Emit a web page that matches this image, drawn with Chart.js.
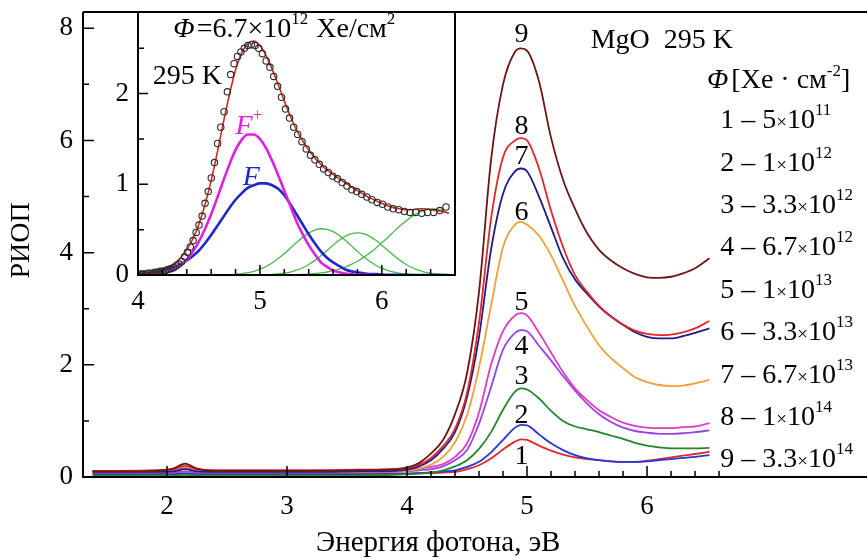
<!DOCTYPE html>
<html>
<head>
<meta charset="utf-8">
<script src="https://cdn.jsdelivr.net/npm/chart.js@4.4.1/dist/chart.umd.min.js"></script>
<style>
  html, body { margin: 0; padding: 0; background: #fff; }
  #wrap { position: relative; width: 867px; height: 558px; }
  #main { position: absolute; left: 0; top: 0; }
  #inset { position: absolute; left: 90px; top: 0; }
</style>
</head>
<body>
<div id="wrap">
  <canvas id="main" width="867" height="558"></canvas>
  <canvas id="inset" width="380" height="320"></canvas>
</div>
<script>
// ---- main plot data (photon energy, eV -> RIOP) ----
var energy = [1.38, 1.6, 1.9, 2.05, 2.15, 2.25, 2.4, 2.8, 3.2, 3.6, 3.9,
  4.0, 4.1, 4.2, 4.3, 4.4, 4.5, 4.6, 4.7, 4.8, 4.9, 4.95,
  5.0, 5.1, 5.2, 5.3, 5.4, 5.5, 5.6, 5.7, 5.8, 5.9, 6.0, 6.1, 6.2, 6.3, 6.4, 6.52];

var riop1 = [0.06, 0.06, 0.06, 0.06, 0.07, 0.06, 0.06, 0.06, 0.06, 0.06, 0.06,
  0.06, 0.07, 0.07, 0.08, 0.09, 0.14, 0.21, 0.33, 0.49, 0.63, 0.67,
  0.66, 0.56, 0.47, 0.40, 0.35, 0.32, 0.30, 0.28, 0.27, 0.27, 0.29, 0.32, 0.35, 0.38, 0.41, 0.45];
var riop2 = [0.05, 0.05, 0.05, 0.05, 0.06, 0.05, 0.05, 0.05, 0.05, 0.05, 0.05,
  0.06, 0.07, 0.08, 0.10, 0.12, 0.18, 0.27, 0.44, 0.66, 0.88, 0.93,
  0.92, 0.76, 0.60, 0.48, 0.39, 0.33, 0.30, 0.28, 0.27, 0.27, 0.28, 0.30, 0.32, 0.34, 0.36, 0.39];
var riop3 = [0.03, 0.03, 0.03, 0.03, 0.04, 0.03, 0.03, 0.03, 0.03, 0.03, 0.04,
  0.05, 0.06, 0.08, 0.12, 0.19, 0.30, 0.50, 0.80, 1.20, 1.52, 1.58,
  1.56, 1.40, 1.18, 1.00, 0.90, 0.85, 0.80, 0.74, 0.68, 0.61, 0.56, 0.53, 0.51, 0.51, 0.51, 0.52];
var riop4 = [0.08, 0.08, 0.08, 0.08, 0.10, 0.08, 0.08, 0.08, 0.08, 0.08, 0.09,
  0.10, 0.12, 0.14, 0.19, 0.30, 0.48, 0.95, 1.60, 2.27, 2.57, 2.62,
  2.60, 2.34, 2.08, 1.80, 1.54, 1.31, 1.12, 0.98, 0.88, 0.82, 0.79, 0.77, 0.77, 0.78, 0.80, 0.83];
var riop5 = [0.11, 0.11, 0.11, 0.12, 0.16, 0.12, 0.11, 0.11, 0.11, 0.11, 0.12,
  0.13, 0.15, 0.18, 0.23, 0.36, 0.60, 1.15, 2.00, 2.60, 2.88, 2.92,
  2.88, 2.57, 2.22, 1.87, 1.58, 1.37, 1.19, 1.07, 0.97, 0.91, 0.88, 0.87, 0.87, 0.89, 0.90, 0.96];
var riop6 = [0.09, 0.09, 0.09, 0.10, 0.16, 0.10, 0.09, 0.09, 0.09, 0.09, 0.10,
  0.11, 0.15, 0.22, 0.36, 0.62, 1.10, 1.95, 3.05, 4.10, 4.50, 4.55,
  4.50, 4.30, 3.95, 3.50, 3.05, 2.68, 2.35, 2.12, 1.94, 1.78, 1.69, 1.64, 1.62, 1.63, 1.67, 1.73];
var riop7 = [0.09, 0.09, 0.09, 0.10, 0.14, 0.10, 0.09, 0.09, 0.09, 0.10, 0.11,
  0.13, 0.19, 0.30, 0.50, 0.80, 1.42, 2.50, 4.05, 5.05, 5.45, 5.50,
  5.45, 5.00, 4.45, 3.90, 3.52, 3.27, 3.04, 2.86, 2.71, 2.58, 2.50, 2.47, 2.47, 2.51, 2.57, 2.65];
var riop8 = [0.11, 0.11, 0.12, 0.14, 0.20, 0.14, 0.12, 0.12, 0.12, 0.13, 0.14,
  0.16, 0.22, 0.34, 0.55, 0.86, 1.50, 2.75, 4.60, 5.70, 6.00, 6.04,
  6.00, 5.50, 4.75, 4.10, 3.60, 3.30, 3.05, 2.86, 2.72, 2.61, 2.55, 2.53, 2.54, 2.58, 2.65, 2.78];
var riop9 = [0.10, 0.10, 0.11, 0.15, 0.24, 0.15, 0.11, 0.11, 0.11, 0.12, 0.14,
  0.17, 0.25, 0.42, 0.66, 1.12, 1.85, 3.30, 5.65, 7.00, 7.58, 7.64,
  7.60, 7.05, 6.05, 5.30, 4.78, 4.35, 4.05, 3.86, 3.72, 3.62, 3.56, 3.55, 3.57, 3.63, 3.72, 3.90];

var curveNames = ['1', '2', '3', '4', '5', '6', '7', '8', '9'];
var fluenceMant = ['5', '1', '3.3', '6.7', '1', '3.3', '6.7', '1', '3.3'];
var fluenceExp = ['11', '12', '12', '12', '13', '13', '13', '14', '14'];

var xTickLabelsMain = [2, 3, 4, 5, 6];
var yTickLabelsMain = [0, 2, 4, 6, 8];

// ---- inset data (fluence 6.7e12) ----
var insetE = [4.000, 4.019, 4.039, 4.059, 4.079, 4.099, 4.120, 4.140, 4.161, 4.182,
  4.203, 4.225, 4.247, 4.269, 4.291, 4.313, 4.336, 4.359, 4.382, 4.405,
  4.429, 4.452, 4.477, 4.501, 4.526, 4.550, 4.576, 4.601, 4.627, 4.653,
  4.679, 4.706, 4.733, 4.760, 4.788, 4.816, 4.844, 4.872, 4.901, 4.930,
  4.960, 4.990, 5.020, 5.051, 5.082, 5.113, 5.145, 5.177, 5.210, 5.243,
  5.277, 5.310, 5.345, 5.380, 5.415, 5.451, 5.487, 5.523, 5.561, 5.598,
  5.636, 5.675, 5.714, 5.754, 5.794, 5.835, 5.877, 5.919, 5.962, 6.005,
  6.049, 6.093, 6.139, 6.185, 6.231, 6.278, 6.327, 6.375, 6.425, 6.475, 6.526];
var insetMeasured = [0.00, 0.01, 0.01, 0.01, 0.02, 0.02, 0.02, 0.03, 0.03, 0.04,
  0.04, 0.05, 0.06, 0.07, 0.08, 0.10, 0.12, 0.15, 0.20, 0.25,
  0.31, 0.38, 0.47, 0.55, 0.65, 0.79, 0.92, 1.07, 1.24, 1.45,
  1.63, 1.80, 2.02, 2.21, 2.33, 2.41, 2.46, 2.50, 2.53, 2.54,
  2.53, 2.50, 2.44, 2.36, 2.29, 2.19, 2.08, 1.96, 1.83, 1.73,
  1.63, 1.55, 1.47, 1.39, 1.32, 1.27, 1.22, 1.17, 1.13, 1.09,
  1.06, 1.02, 0.98, 0.94, 0.92, 0.89, 0.86, 0.83, 0.80, 0.78,
  0.75, 0.73, 0.72, 0.70, 0.69, 0.69, 0.68, 0.69, 0.69, 0.71, 0.75];

var fitE = [4.00, 4.05, 4.10, 4.15, 4.20, 4.25, 4.30, 4.35, 4.40, 4.45,
  4.50, 4.55, 4.60, 4.65, 4.70, 4.75, 4.80, 4.85, 4.90, 4.95,
  5.00, 5.05, 5.10, 5.15, 5.20, 5.25, 5.30, 5.35, 5.40, 5.45,
  5.50, 5.55, 5.60, 5.65, 5.70, 5.75, 5.80, 5.85, 5.90, 5.95,
  6.00, 6.05, 6.10, 6.15, 6.20, 6.25, 6.30, 6.35, 6.40, 6.45, 6.50, 6.55];
var fitSum = [0.01, 0.02, 0.03, 0.04, 0.06, 0.09, 0.13, 0.19, 0.28, 0.40,
  0.56, 0.78, 1.04, 1.35, 1.68, 1.99, 2.26, 2.45, 2.55, 2.58,
  2.53, 2.42, 2.27, 2.10, 1.92, 1.75, 1.60, 1.48, 1.38, 1.29,
  1.22, 1.16, 1.11, 1.06, 1.02, 0.97, 0.93, 0.89, 0.85, 0.82,
  0.79, 0.76, 0.74, 0.73, 0.72, 0.72, 0.73, 0.73, 0.72, 0.71, 0.70, 0.68];
var fitFplus = [0.00, 0.00, 0.01, 0.01, 0.02, 0.04, 0.07, 0.11, 0.17, 0.26,
  0.37, 0.51, 0.67, 0.85, 1.04, 1.22, 1.38, 1.49, 1.55, 1.55,
  1.50, 1.40, 1.26, 1.10, 0.93, 0.76, 0.59, 0.45, 0.33, 0.23,
  0.14, 0.09, 0.05, 0.03, 0.015, 0.008, 0.004, 0.002, 0.001, 0.00,
  null, null, null, null, null, null, null, null, null, null, null, null];
var fitF = [0.012, 0.017, 0.025, 0.035, 0.05, 0.07, 0.09, 0.12, 0.16, 0.21,
  0.27, 0.35, 0.44, 0.54, 0.64, 0.74, 0.83, 0.90, 0.96, 0.99,
  1.01, 1.01, 0.99, 0.95, 0.88, 0.78, 0.67, 0.56, 0.45, 0.35,
  0.26, 0.19, 0.14, 0.10, 0.06, 0.04, 0.03, 0.02, 0.01, 0.01,
  0.005, 0.003, 0.002, 0.001, 0.00, 0.00, 0.00, 0.00, 0.00, 0.00, 0.00, 0.00];
var fitG1 = [null, null, null, null, null, null, null, null, null, null,
  null, null, null, null, null, null, 0.01, 0.016, 0.026, 0.041,
  0.064, 0.094, 0.133, 0.181, 0.236, 0.297, 0.358, 0.415, 0.463, 0.496,
  0.51, 0.503, 0.478, 0.436, 0.382, 0.321, 0.26, 0.202, 0.151, 0.108,
  0.075, 0.049, 0.031, 0.019, 0.011, 0.006, 0.003, 0.002, 0.001, 0.00, 0.00, 0.00];
var fitG2 = [null, null, null, null, null, null, null, null, null, null,
  null, null, null, null, null, null, null, null, 0.00, 0.001,
  0.002, 0.004, 0.007, 0.012, 0.02, 0.033, 0.053, 0.08, 0.116, 0.161,
  0.213, 0.27, 0.329, 0.383, 0.426, 0.455, 0.465, 0.455, 0.426, 0.383,
  0.329, 0.27, 0.213, 0.161, 0.116, 0.08, 0.053, 0.033, 0.02, 0.011, 0.006, 0.003];
var fitG3 = [null, null, null, null, null, null, null, null, null, null,
  null, null, null, null, null, null, null, null, null, null,
  0.00, 0.00, 0.001, 0.001, 0.002, 0.003, 0.004, 0.007, 0.010, 0.016,
  0.023, 0.033, 0.047, 0.065, 0.088, 0.117, 0.152, 0.194, 0.242, 0.296,
  0.355, 0.417, 0.481, 0.542, 0.599, 0.649, 0.688, 0.716, 0.729, 0.727, 0.711, 0.681];

var xTickLabelsInset = [4, 5, 6];
var yTickLabelsInset = [0, 1, 2];

// ---- styling ----
var SERIF = '"Liberation Serif", "Times New Roman", serif';
var curveColors = ['#e3282c', '#2436dc', '#22882a', '#9a42e4', '#e03ac6',
  '#f0a03a', '#1c1c8a', '#e42626', '#6c1616'];
var labelY = [0.36, 1.10, 1.79, 2.32, 3.10, 4.71, 5.71, 6.24, 7.88];

Chart.defaults.font.family = SERIF;
Chart.defaults.color = '#000';

function pts(xs, ys) {
  return xs.map(function (x, i) { return { x: x, y: ys[i] }; });
}

function rich(ctx, x, y, parts) {
  parts.forEach(function (p) {
    ctx.font = p.f;
    ctx.fillStyle = p.c || '#000';
    ctx.fillText(p.t, x, y + (p.dy || 0));
    x += ctx.measureText(p.t).width + (p.gap || 0);
  });
  return x;
}

// scales should not push the plot area around
function noPad(s) {
  s.paddingTop = 0; s.paddingBottom = 0; s.paddingLeft = 0; s.paddingRight = 0;
}

var F = '28px ' + SERIF, FI = 'italic 28px ' + SERIF;
var FS = '17px ' + SERIF, FX = '19px ' + SERIF;

function inwardTicks(ctx, scale, values, len, horizontal, base) {
  ctx.beginPath();
  values.forEach(function (v) {
    var p = scale.getPixelForValue(v);
    if (horizontal) { ctx.moveTo(p, base); ctx.lineTo(p, base - len); }
    else { ctx.moveTo(base, p); ctx.lineTo(base + len, p); }
  });
  ctx.stroke();
}

var mainDeco = {
  id: 'mainDeco',
  afterDraw: function (chart) {
    var ctx = chart.ctx, a = chart.chartArea;
    var xs = chart.scales.x, ys = chart.scales.y;
    ctx.save();
    ctx.strokeStyle = '#000';
    ctx.lineWidth = 2;
    ctx.beginPath();
    ctx.moveTo(a.left, a.top); ctx.lineTo(a.right, a.top);
    ctx.moveTo(a.left, a.top); ctx.lineTo(a.left, a.bottom); ctx.lineTo(a.right, a.bottom);
    ctx.stroke();
    ctx.lineWidth = 1.5;
    inwardTicks(ctx, xs, [2, 3, 4, 5, 6], 11, true, a.bottom);
    inwardTicks(ctx, xs, [4.2, 4.4, 4.6, 4.8, 5.2, 5.4, 5.6, 5.8, 6.2, 6.4, 6.6], 6, true, a.bottom);
    inwardTicks(ctx, ys, [2, 4, 6, 8], 11, false, a.left);
    inwardTicks(ctx, ys, [1, 3, 5, 7], 6, false, a.left);

    // axis titles
    ctx.fillStyle = '#000';
    ctx.font = '29px ' + SERIF;
    ctx.textAlign = 'center';
    ctx.textBaseline = 'alphabetic';
    ctx.fillText('Энергия фотона, эВ', xs.getPixelForValue(4.26), 551);
    ctx.save();
    ctx.translate(29, (a.top + a.bottom) / 2 - 4);
    ctx.rotate(-Math.PI / 2);
    ctx.font = '28px ' + SERIF;
    ctx.fillText('РИОП', 0, 0);
    ctx.restore();

    // curve numbers near the peaks
    ctx.font = '28px ' + SERIF;
    ctx.textBaseline = 'middle';
    curveNames.forEach(function (n, i) {
      ctx.fillText(n, xs.getPixelForValue(4.955), ys.getPixelForValue(labelY[i]));
    });

    // sample / legend text
    ctx.textAlign = 'left';
    ctx.textBaseline = 'alphabetic';
    rich(ctx, xs.getPixelForValue(5.53), ys.getPixelForValue(7.65), [{ t: 'MgO  295 K', f: F }]);
    var lx = xs.getPixelForValue(6.5), ly = ys.getPixelForValue(6.93);
    rich(ctx, lx, ly, [
      { t: 'Φ', f: FI, gap: 3 }, { t: '[Xe · см', f: F }, { t: '-2', f: FS, dy: -12 }, { t: ']', f: F }
    ]);
    fluenceMant.forEach(function (m, i) {
      var y = ys.getPixelForValue(6.22 - 0.756 * i);
      rich(ctx, xs.getPixelForValue(6.61), y, [
        { t: curveNames[i] + ' – ' + m, f: F }, { t: '×', f: FX }, { t: '10', f: F },
        { t: fluenceExp[i], f: FS, dy: -13 }
      ]);
    });
    ctx.restore();
  }
};

var mainDatasets = [riop9, riop8, riop7, riop6, riop5, riop4, riop3, riop2, riop1].map(function (ys, k) {
  var i = 8 - k;
  return {
    data: pts(energy, ys),
    borderColor: curveColors[i],
    borderWidth: 1.8,
    pointRadius: 0,
    fill: false,
    cubicInterpolationMode: 'monotone'
  };
});

new Chart(document.getElementById('main'), {
  type: 'line',
  data: { datasets: mainDatasets },
  options: {
    responsive: false,
    animation: false,
    layout: { padding: { top: 12, left: 0, right: 0, bottom: 0 } },
    plugins: { legend: { display: false }, tooltip: { enabled: false } },
    scales: {
      x: {
        type: 'linear', min: 1.3, max: 7.833,
        grid: { display: false, drawTicks: false },
        border: { display: false },
        ticks: { font: { size: 27 }, padding: 14, maxRotation: 0 },
        afterBuildTicks: function (s) { s.ticks = xTickLabelsMain.map(function (v) { return { value: v }; }); },
        afterFit: function (s) { s.height = 81; noPad(s); }
      },
      y: {
        type: 'linear', min: 0, max: 8.29,
        grid: { display: false, drawTicks: false },
        border: { display: false },
        ticks: { font: { size: 27 }, padding: 10 },
        afterBuildTicks: function (s) { s.ticks = yTickLabelsMain.map(function (v) { return { value: v }; }); },
        afterFit: function (s) { s.width = 83; noPad(s); }
      }
    }
  },
  plugins: [mainDeco]
});

// ---- inset ----
var insetDeco = {
  id: 'insetDeco',
  beforeDraw: function (chart) {
    var ctx = chart.ctx, a = chart.chartArea;
    ctx.save();
    ctx.fillStyle = '#fff';
    ctx.fillRect(a.left, a.top, a.right - a.left, a.bottom - a.top);
    ctx.restore();
  },
  afterDraw: function (chart) {
    var ctx = chart.ctx, a = chart.chartArea;
    var xs = chart.scales.x, ys = chart.scales.y;
    ctx.save();
    ctx.strokeStyle = '#000';
    ctx.lineWidth = 2;
    ctx.strokeRect(a.left, a.top, a.right - a.left, a.bottom - a.top);
    ctx.lineWidth = 1.5;
    inwardTicks(ctx, xs, [4, 5, 6], 10, true, a.bottom);
    inwardTicks(ctx, xs, [4.2, 4.4, 4.6, 4.8, 5.2, 5.4, 5.6, 5.8, 6.2, 6.4], 6, true, a.bottom);
    inwardTicks(ctx, ys, [1, 2], 10, false, a.left);
    inwardTicks(ctx, ys, [0.5, 1.5, 2.5], 6, false, a.left);

    ctx.textAlign = 'left';
    ctx.textBaseline = 'alphabetic';
    rich(ctx, xs.getPixelForValue(4.29), ys.getPixelForValue(2.62), [
      { t: 'Φ', f: FI, gap: 2 }, { t: '=6.7', f: F }, { t: '×', f: F }, { t: '10', f: F },
      { t: '12', f: FS, dy: -13, gap: 8 }, { t: 'Xe/см', f: F }, { t: '2', f: FS, dy: -13 }
    ]);
    rich(ctx, xs.getPixelForValue(4.12), ys.getPixelForValue(2.11), [{ t: '295 K', f: F }]);
    rich(ctx, xs.getPixelForValue(4.80), ys.getPixelForValue(1.55), [
      { t: 'F', f: FI, c: '#e020e0' }, { t: '+', f: FS, dy: -14, c: '#e020e0' }
    ]);
    rich(ctx, xs.getPixelForValue(4.86), ys.getPixelForValue(0.99), [
      { t: 'F', f: FI, c: '#1e28c8' }
    ]);
    ctx.restore();
  }
};

function fitLine(ys, color, width) {
  return {
    data: pts(fitE, ys), borderColor: color, borderWidth: width,
    pointRadius: 0, fill: false, cubicInterpolationMode: 'monotone'
  };
}

new Chart(document.getElementById('inset'), {
  type: 'line',
  data: {
    datasets: [
      {
        data: pts(insetE, insetMeasured), showLine: false,
        pointRadius: 3.2, pointBorderWidth: 1.1, pointBorderColor: '#2a2a2a',
        pointBackgroundColor: 'rgba(255,255,255,0)', pointStyle: 'circle'
      },
      fitLine(fitSum, '#d42a22', 1.6),
      fitLine(fitFplus, '#e020e0', 2.6),
      fitLine(fitF, '#1e28c8', 2.6),
      fitLine(fitG1, '#4cb84a', 1.3),
      fitLine(fitG2, '#4cb84a', 1.3),
      fitLine(fitG3, '#4cb84a', 1.3)
    ]
  },
  options: {
    responsive: false,
    animation: false,
    layout: { padding: { top: 12, left: 0, right: 15, bottom: 0 } },
    plugins: { legend: { display: false }, tooltip: { enabled: false } },
    scales: {
      x: {
        type: 'linear', min: 4, max: 6.6,
        grid: { display: false, drawTicks: false },
        border: { display: false },
        ticks: { font: { size: 27 }, padding: 11, maxRotation: 0 },
        afterBuildTicks: function (s) { s.ticks = xTickLabelsInset.map(function (v) { return { value: v }; }); },
        afterFit: function (s) { s.height = 45; noPad(s); }
      },
      y: {
        type: 'linear', min: 0, max: 2.9,
        grid: { display: false, drawTicks: false },
        border: { display: false },
        ticks: { font: { size: 27 }, padding: 9 },
        afterBuildTicks: function (s) { s.ticks = yTickLabelsInset.map(function (v) { return { value: v }; }); },
        afterFit: function (s) { s.width = 48; noPad(s); }
      }
    }
  },
  plugins: [insetDeco]
});
</script>
</body>
</html>
